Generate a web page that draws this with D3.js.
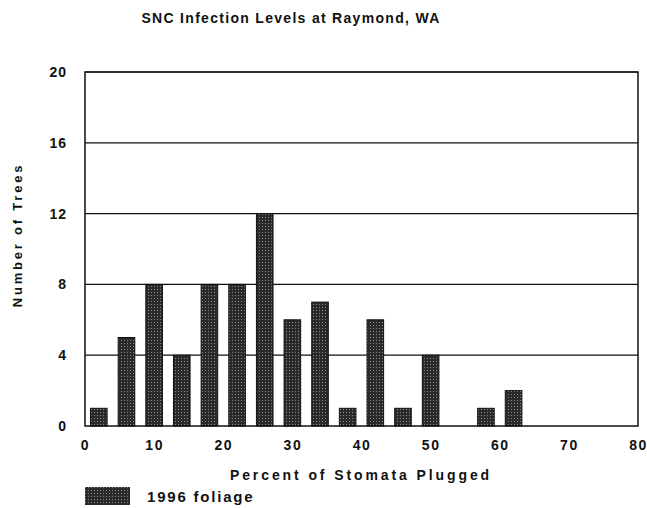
<!DOCTYPE html>
<html lang="en">
<head>
    <meta charset="UTF-8">
    <title>SNC Infection Levels at Raymond, WA</title>
    <script src="https://d3js.org/d3.v7.min.js"></script>
    <style>
        body { margin: 0; background: #fff; }
        text { font-family: "Liberation Sans", Arial, sans-serif; fill: #111; }
    </style>
</head>
<body>
    <svg id="chart" width="647" height="508"></svg>
    <script>
        // data
        var percentPlugged = [2, 6, 10, 14, 18, 22, 26, 30, 34, 38, 42, 46, 50, 58, 62];
        var treeCounts = [1, 5, 8, 4, 8, 8, 12, 6, 7, 1, 6, 1, 4, 1, 2];
        var xTicks = [0, 10, 20, 30, 40, 50, 60, 70, 80];
        var yTicks = [0, 4, 8, 12, 16, 20];
        var seriesName = "1996 foliage";

        var svg = d3.select("#chart");
        var margin = { left: 85, right: 9, top: 72, bottom: 82 };
        var width = 647 - margin.left - margin.right,
            height = 508 - margin.top - margin.bottom;

        var x = d3.scaleLinear().domain([0, 80]).range([margin.left, margin.left + width]);
        var y = d3.scaleLinear().domain([0, 20]).range([margin.top + height, margin.top]);

        // stippled dark fill like the scanned bars
        var defs = svg.append("defs");
        var pat = defs.append("pattern")
            .attr("id", "stipple")
            .attr("patternUnits", "userSpaceOnUse")
            .attr("width", 3).attr("height", 3);
        pat.append("rect").attr("width", 3).attr("height", 3).attr("fill", "#2a2a2a");
        pat.append("rect").attr("x", 1).attr("y", 1).attr("width", 1).attr("height", 1).attr("fill", "#8a8a8a");

        // title
        svg.append("text")
            .attr("x", 291).attr("y", 23)
            .attr("text-anchor", "middle")
            .style("font-size", "14px").style("font-weight", "bold")
            .style("letter-spacing", "1.3px")
            .text("SNC Infection Levels at Raymond, WA");

        // gridlines
        svg.append("g")
            .selectAll("line")
            .data(yTicks.filter(d => d > 0))
            .enter()
            .append("line")
            .attr("x1", x(0)).attr("x2", x(80))
            .attr("y1", d => y(d)).attr("y2", d => y(d))
            .attr("stroke", "#111").attr("stroke-width", 1.2);

        // bars
        var barW = x(2.4) - x(0);
        svg.append("g")
            .selectAll("rect")
            .data(percentPlugged)
            .enter()
            .append("rect")
            .attr("x", (d, i) => x(d) - barW / 2)
            .attr("y", (d, i) => y(treeCounts[i]))
            .attr("width", barW)
            .attr("height", (d, i) => y(0) - y(treeCounts[i]))
            .attr("fill", "url(#stipple)")
            .attr("stroke", "#111").attr("stroke-width", 1);

        // plot frame
        svg.append("rect")
            .attr("x", x(0)).attr("y", y(20))
            .attr("width", x(80) - x(0)).attr("height", y(0) - y(20))
            .attr("fill", "none")
            .attr("stroke", "#111").attr("stroke-width", 1.5);

        // axes, tick labels only
        var xAxis = d3.axisBottom(x).tickValues(xTicks).tickSize(0).tickPadding(14);
        var gx = svg.append("g").attr("transform", "translate(0," + y(0) + ")").call(xAxis);
        gx.select(".domain").remove();
        gx.selectAll("text")
            .style("font-size", "14px").style("font-weight", "bold")
            .style("font-family", "Liberation Sans, Arial, sans-serif")
            .style("letter-spacing", "1.5px").attr("fill", "#111");

        var yAxis = d3.axisLeft(y).tickValues(yTicks).tickSize(0).tickPadding(18);
        var gy = svg.append("g").attr("transform", "translate(" + x(0) + ",0)").call(yAxis);
        gy.select(".domain").remove();
        gy.selectAll("text")
            .style("font-size", "14px").style("font-weight", "bold")
            .style("font-family", "Liberation Sans, Arial, sans-serif")
            .style("letter-spacing", "1px").attr("fill", "#111");

        // axis titles
        svg.append("text")
            .attr("x", 361).attr("y", 480)
            .attr("text-anchor", "middle")
            .style("font-size", "14px").style("font-weight", "bold")
            .style("letter-spacing", "2.9px")
            .text("Percent of Stomata Plugged");

        svg.append("text")
            .attr("transform", "translate(22,235) rotate(-90)")
            .attr("text-anchor", "middle")
            .style("font-size", "13px").style("font-weight", "bold")
            .style("letter-spacing", "2.8px")
            .text("Number of Trees");

        // legend
        var legend = svg.append("g").attr("class", "legendEntry");
        legend.append("rect")
            .attr("x", 85).attr("y", 487)
            .attr("width", 45).attr("height", 18)
            .attr("fill", "url(#stipple)");
        legend.append("text")
            .attr("x", 147).attr("y", 502)
            .style("font-size", "15px").style("font-weight", "bold")
            .style("letter-spacing", "1.8px")
            .text(seriesName);
    </script>
</body>
</html>
